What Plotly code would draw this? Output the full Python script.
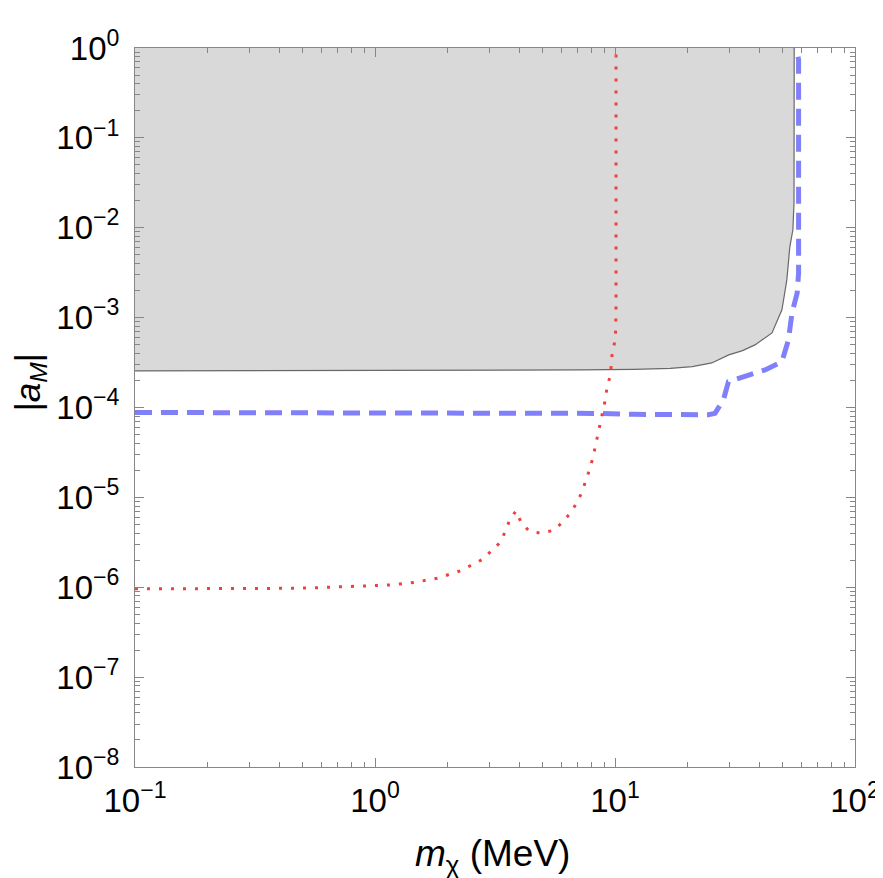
import plotly.graph_objects as go

# ---- data ----
gray_x = [0.1, 0.3, 0.45, 1, 3, 7.2, 12, 17, 21, 25.3, 29.8, 34, 38.3, 45.1, 49.6, 52.0, 53.5, 55.1, 55.7, 55.8, 55.8]
gray_y = [2.55e-4, 2.56e-4, 2.58e-4, 2.58e-4, 2.6e-4, 2.62e-4, 2.66e-4, 2.72e-4, 2.85e-4, 3.13e-4, 3.85e-4,
          4.3e-4, 4.97e-4, 6.76e-4, 1.22e-3, 2.63e-3, 6.1e-3, 9.5e-3, 1.89e-2, 0.1, 1.0]

blue_x = [0.1, 1, 5, 8.6, 12, 18, 24.5, 26.1, 28.3, 29.7, 34.9, 42.2, 49.6, 52.8, 54.6, 57.4, 58.2, 58.2, 58.2, 57.5, 56.3]
blue_y = [8.8e-5, 8.8e-5, 8.7e-5, 8.6e-5, 8.4e-5, 8.2e-5, 8.3e-5, 8.6e-5, 1.22e-4, 1.94e-4, 2.21e-4, 2.62e-4,
          3.24e-4, 5.65e-4, 1.12e-3, 1.87e-3, 3.12e-3, 0.22, 0.74, 0.88, 1.0]

red_x = [0.1, 0.2, 0.35, 0.52, 0.815, 1.16, 1.45, 1.82, 2.28, 2.81, 3.35, 3.52, 3.66, 3.87, 4.06, 4.38, 4.89,
         5.51, 6.03, 6.51, 6.92, 7.28, 7.57, 7.84, 8.10, 8.30, 8.49, 8.71, 8.91, 9.14, 9.26, 9.57, 9.66, 9.73,
         9.98, 10.07, 10.1, 10.1]
red_y = [9.6e-7, 9.6e-7, 9.7e-7, 9.8e-7, 1.02e-6, 1.06e-6, 1.13e-6, 1.26e-6, 1.53e-6, 2.05e-6, 3.22e-6, 4.35e-6,
         5.77e-6, 7.08e-6, 5.30e-6, 4.24e-6, 4.0e-6, 4.28e-6, 5.25e-6, 6.67e-6, 8.63e-6, 1.14e-5, 1.54e-5,
         2.06e-5, 2.8e-5, 3.74e-5, 5.09e-5, 6.86e-5, 9.33e-5, 1.27e-4, 1.68e-4, 2.29e-4, 3.11e-4, 3.95e-4,
         5.41e-4, 7.3e-4, 1.5e-3, 1.0]

x_range_exp = [-1, 2]
y_range_exp = [-8, 0]
x_tick_exps = [-1, 0, 1, 2]
y_tick_exps = [-8, -7, -6, -5, -4, -3, -2, -1, 0]

def sup_label(e):
    s = str(e).replace("-", "\u2212")
    return f"10<sup>{s}</sup>"

def minor_vals(lo, hi):
    vals = []
    for d in range(lo, hi):
        for k in range(2, 10):
            vals.append(k * 10 ** d)
    return vals

FONT = "Liberation Sans, Arial, sans-serif"
FRAME = "rgb(135,135,135)"

fig = go.Figure()

xmin = 10 ** x_range_exp[0]
ymax = 10 ** y_range_exp[1]
fill_x = gray_x + [xmin, xmin]
fill_y = gray_y + [ymax, gray_y[0]]
fig.add_trace(go.Scatter(x=fill_x, y=fill_y, mode="lines", fill="toself",
                         fillcolor="rgb(217,217,217)", line=dict(width=0), hoverinfo="skip", showlegend=False))
fig.add_trace(go.Scatter(x=gray_x, y=gray_y, mode="lines",
                         line=dict(color="rgb(105,105,105)", width=1.2), showlegend=False))

fig.add_trace(go.Scatter(x=blue_x, y=blue_y, mode="lines",
                         line=dict(color="rgb(128,128,250)", width=5, dash="17px,9px"), showlegend=False))
fig.add_trace(go.Scatter(x=red_x, y=red_y, mode="lines",
                         line=dict(color="rgb(238,64,64)", width=3, dash="3px,9px"), showlegend=False))

axis_common = dict(
    type="log", showgrid=False, zeroline=False, showline=True, linecolor=FRAME, linewidth=1,
    mirror="allticks", ticks="inside", ticklen=9, tickwidth=1, tickcolor=FRAME,
    tickfont=dict(family=FONT, size=33, color="black"),
    ticklabeloverflow="allow",
)

fig.update_xaxes(
    **axis_common,
    range=x_range_exp,
    tickmode="array", tickvals=[10 ** e for e in x_tick_exps], ticktext=[sup_label(e) for e in x_tick_exps],
    minor=dict(tickmode="array", tickvals=minor_vals(x_range_exp[0], x_range_exp[1]), ticks="inside",
               ticklen=5, tickcolor=FRAME, showgrid=False),
    ticklabelstandoff=4,
)
fig.update_yaxes(
    **axis_common,
    range=y_range_exp,
    tickmode="array", tickvals=[10 ** e for e in y_tick_exps], ticktext=[sup_label(e) for e in y_tick_exps],
    minor=dict(tickmode="array", tickvals=minor_vals(y_range_exp[0], y_range_exp[1]), ticks="inside",
               ticklen=5, tickcolor=FRAME, showgrid=False),
    ticklabelstandoff=8,
)

fig.add_annotation(text="<i>m</i><sub>\u03c7</sub> (MeV)", xref="paper", yref="paper", x=0.4965, y=-0.0894,
                   xanchor="center", yanchor="top", showarrow=False,
                   font=dict(family=FONT, size=37, color="black"))
fig.add_annotation(text="|<i>a</i><sub><i>M</i></sub>|", xref="paper", yref="paper", x=-0.1458, y=0.535,
                   xanchor="center", yanchor="middle", textangle=-90, showarrow=False,
                   font=dict(family=FONT, size=35, color="black"))

# the page body adds an 8 px offset, so the figure is 8 px smaller and the margins compensate
fig.update_layout(
    width=875, height=870,
    margin=dict(l=127, r=28, t=40, b=111, autoexpand=False),
    plot_bgcolor="white", paper_bgcolor="white",
    showlegend=False,
)

fig.write_html("out.html")
